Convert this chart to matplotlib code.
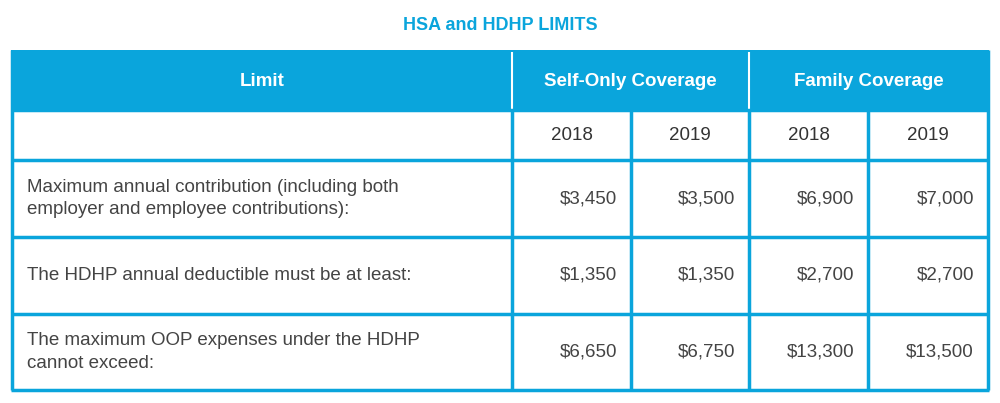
import matplotlib.pyplot as plt
import matplotlib.patches as mpatches

title = 'HSA and HDHP LIMITS'
groups = ['Self-Only Coverage', 'Family Coverage']
years = ['2018', '2019', '2018', '2019']
row_labels = [
    'Maximum annual contribution (including both\nemployer and employee contributions):',
    'The HDHP annual deductible must be at least:',
    'The maximum OOP expenses under the HDHP\ncannot exceed:',
]
values = [
    ['$3,450', '$3,500', '$6,900', '$7,000'],
    ['$1,350', '$1,350', '$2,700', '$2,700'],
    ['$6,650', '$6,750', '$13,300', '$13,500'],
]

blue = '#0aa5dc'
text_gray = '#444444'
plt.rcParams['font.family'] = ['Liberation Sans', 'DejaVu Sans']
plt.rcParams['lines.solid_capstyle'] = 'butt'

fig = plt.figure(figsize=(10, 4.03), dpi=100)
ax = fig.add_axes([0, 0, 1, 1])
ax.set_xlim(0, 1000)
ax.set_ylim(403, 0)
ax.axis('off')

# layout in pixels
col_x = [12, 512, 631, 749, 868, 988]
row_y = [50, 110, 160, 237, 314, 390]

ax.text(500, 25, title, ha='center', va='center', color=blue,
        fontsize=13, fontweight='bold')

# header band
ax.add_patch(mpatches.Rectangle((col_x[0] - 1, row_y[0]), col_x[-1] - col_x[0] + 2,
                                row_y[1] - row_y[0], color=blue, lw=0))
for x in (col_x[1], col_x[3]):
    ax.plot([x, x], [row_y[0] + 2, row_y[1]], color='white', lw=1.5)
ax.text((col_x[0] + col_x[1]) / 2, 81, 'Limit', ha='center', va='center',
        color='white', fontsize=13.5, fontweight='bold')
for i, g in enumerate(groups):
    cx = (col_x[1 + 2 * i] + col_x[3 + 2 * i]) / 2
    ax.text(cx, 81, g, ha='center', va='center', color='white',
            fontsize=13.5, fontweight='bold')

# grid lines
for y in row_y[1:]:
    ax.plot([col_x[0] - 1, col_x[-1] + 1], [y, y], color=blue, lw=2.5)
for x in (col_x[0], col_x[-1]):
    ax.plot([x, x], [row_y[0], row_y[-1]], color=blue, lw=2.5)
for x in col_x[1:-1]:
    ax.plot([x, x], [row_y[1], row_y[-1]], color=blue, lw=2.5)

# year row
for j, yr in enumerate(years):
    ax.text((col_x[j + 1] + col_x[j + 2]) / 2, (row_y[1] + row_y[2]) / 2, yr,
            ha='center', va='center', color='#333333', fontsize=13.5)

# body rows
for i, (lab, vals) in enumerate(zip(row_labels, values)):
    cy = (row_y[i + 2] + row_y[i + 3]) / 2
    ax.text(27, cy, lab, ha='left', va='center', color=text_gray,
            fontsize=13.5, linespacing=1.4)
    for j, v in enumerate(vals):
        ax.text(col_x[j + 2] - 14, cy, v, ha='right', va='center',
                color=text_gray, fontsize=13.5)

plt.savefig('out.png', dpi=100)
